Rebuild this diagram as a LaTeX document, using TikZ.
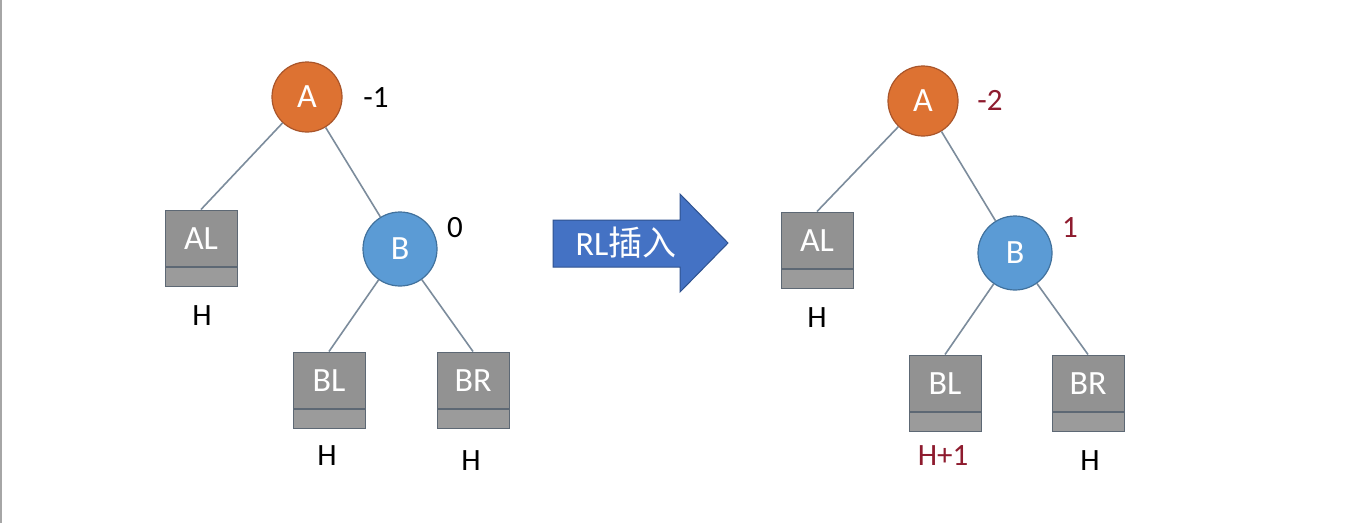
\documentclass[tikz,border=0pt]{standalone}
\usepackage{fontspec}
\setmainfont{Carlito}
\newfontfamily\cjk{Noto Sans CJK SC}
\definecolor{aorange}{HTML}{DD7232}
\definecolor{aorangeD}{HTML}{A9552A}
\definecolor{bblue}{HTML}{5B9BD5}
\definecolor{bblueD}{HTML}{41719C}
\definecolor{boxgray}{HTML}{929292}
\definecolor{boxgrayL}{HTML}{9B9B9B}
\definecolor{boxedge}{HTML}{5D6874}
\definecolor{edgecol}{HTML}{7C8C9C}
\definecolor{arrowblue}{HTML}{4472C4}
\definecolor{arrowblueD}{HTML}{2F528F}
\definecolor{darkred}{HTML}{8E1B2E}
\begin{document}
\begin{tikzpicture}[x=1pt,y=-1pt,
  txt/.style={font=\fontsize{31}{33}\selectfont},
  intxt/.style={font=\fontsize{34}{36}\selectfont},
  circA/.style={circle,minimum size=70pt,inner sep=0pt,fill=aorange,draw=aorangeD,line width=1.2pt,text=white,intxt},
  circB/.style={circle,minimum size=74pt,inner sep=0pt,fill=bblue,draw=bblueD,line width=1.2pt,text=white,intxt},
  leaf/.style={rectangle,minimum width=72pt,minimum height=76pt,inner sep=0pt,fill=boxgray,draw=boxedge,line width=1pt,
    path picture={
      \fill[boxgrayL] (path picture bounding box.south west) rectangle ([yshift=19pt]path picture bounding box.south east);
      \draw[boxedge,line width=1.2pt] ([yshift=19pt]path picture bounding box.south west) -- ([yshift=19pt]path picture bounding box.south east);},
    label={[text=white,intxt,yshift=9pt]center:#1}},
  conn/.style={draw=edgecol,line width=1.6pt},
  num/.style={txt,text=black},
  rnum/.style={txt,text=darkred}]
\useasboundingbox (0,0) rectangle (1372,523);
\fill[white] (0,0) rectangle (1372,523);
\fill[gray!70] (0,0) rectangle (2,523);

% left tree
\node[circA] (A1) at (307,97) {A};
\node[leaf=AL] (AL1) at (201,248) {};
\node[circB] (B1) at (400,249) {B};
\node[leaf=BL] (BL1) at (329,390) {};
\node[leaf=BR] (BR1) at (473,390) {};
\draw[conn] (A1) -- (AL1.north);
\draw[conn] (A1) -- (B1);
\draw[conn] (B1) -- (BL1.north);
\draw[conn] (B1) -- (BR1.north);
\node[num] (nA1) at (376,98) {-1};
\node[num] (nB1) at (455,228) {0};
\node[num] (hAL1) at (202,316) {H};
\node[num] (hBL1) at (327,456) {H};
\node[num] (hBR1) at (471,461) {H};

% arrow
\filldraw[fill=arrowblue,draw=arrowblueD,line width=1pt]
  (553,220) -- (680,220) -- (680,194) -- (728,243) -- (680,292) -- (680,267) -- (553,267) -- cycle;
\node[intxt,text=white] (arr) at (626,243) {RL{\cjk 插入}};

% right tree
\node[circA] (A2) at (923,101) {A};
\node[leaf=AL] (AL2) at (817,250) {};
\node[circB] (B2) at (1015,253) {B};
\node[leaf=BL] (BL2) at (945,393) {};
\node[leaf=BR] (BR2) at (1088,393) {};
\draw[conn] (A2) -- (AL2.north);
\draw[conn] (A2) -- (B2);
\draw[conn] (B2) -- (BL2.north);
\draw[conn] (B2) -- (BR2.north);
\node[rnum] (nA2) at (990,100) {-2};
\node[rnum] (nB2) at (1070,228) {1};
\node[num] (hAL2) at (817,318) {H};
\node[rnum] (hBL2) at (943,456) {H+1};
\node[num] (hBR2) at (1090,461) {H};
\end{tikzpicture}
\end{document}
